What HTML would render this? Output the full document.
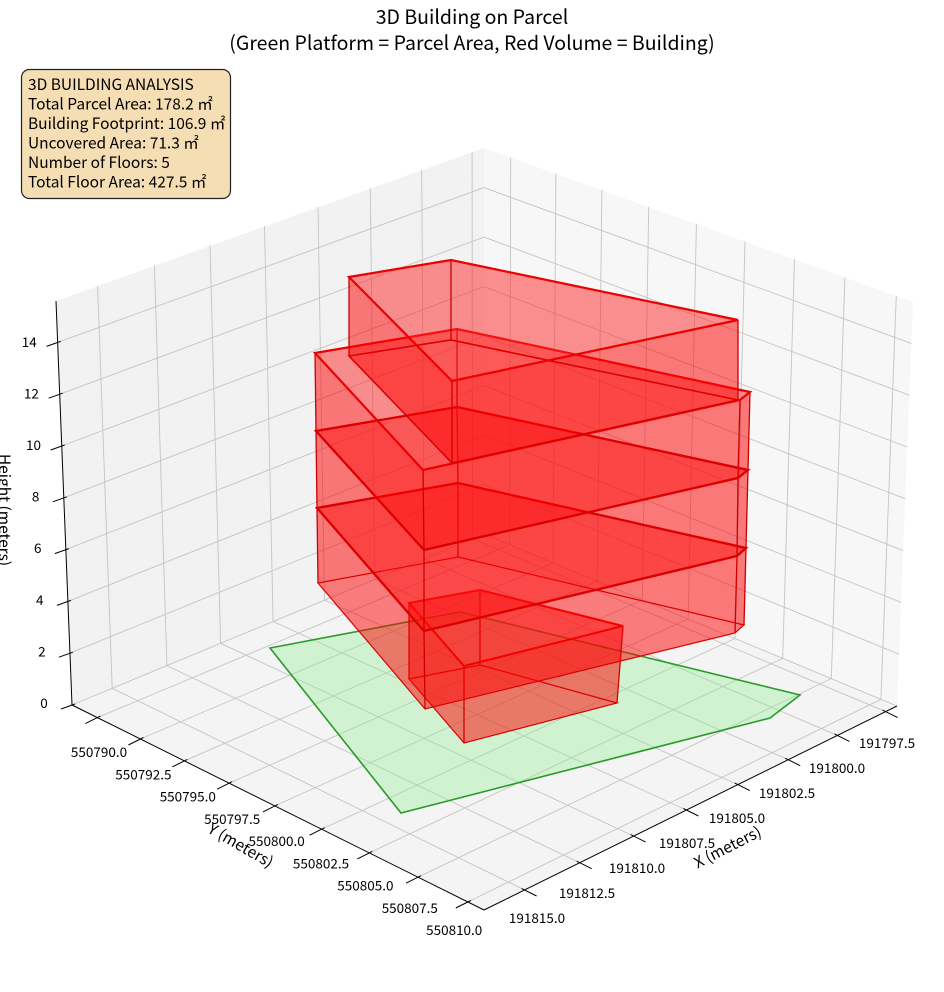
<!DOCTYPE html>
<html><head><meta charset="utf-8">
<style>
html,body{margin:0;padding:0;background:#fff;}
svg{display:block;}
text{font-family:"Noto Sans CJK JP","Liberation Sans",sans-serif;fill:#000;}
</style></head>
<body>
<svg id="s" width="944" height="992" viewBox="0 0 944 992" xmlns="http://www.w3.org/2000/svg">
<g id="panes"></g>
<g id="grid" stroke="#c4c4c4" stroke-width="0.9" fill="none"></g>
<g id="axes" stroke="#000" stroke-width="1" fill="none"></g>
<polygon points="270,648 460,612 800,695 770,718 401,813" fill="rgba(144,238,144,0.35)" stroke="#2a9a2a" stroke-width="1.6"/>
<g id="bld"></g>
<g id="labels" font-size="13.5"></g>
<text x="472" y="24" font-size="19.5" text-anchor="middle">3D Building on Parcel</text>
<text x="472" y="50" font-size="19.5" text-anchor="middle">(Green Platform = Parcel Area, Red Volume = Building)</text>
<rect x="21.5" y="69.5" width="209" height="129" rx="8" fill="#f5deb3" stroke="#222" stroke-width="1.2"/>
<g font-size="15.5">
<text x="28" y="90">3D BUILDING ANALYSIS</text>
<text x="28" y="109.5">Total Parcel Area: 178.2 ㎡</text>
<text x="28" y="129">Building Footprint: 106.9 ㎡</text>
<text x="28" y="148.5">Uncovered Area: 71.3 ㎡</text>
<text x="28" y="168">Number of Floors: 5</text>
<text x="28" y="187.5">Total Floor Area: 427.5 ㎡</text>
</g>
<text x="730" y="852" font-size="15.5" text-anchor="middle" transform="rotate(-27 730 852)">X (meters)</text>
<text x="238" y="850" font-size="15.5" text-anchor="middle" transform="rotate(30 238 850)">Y (meters)</text>
<text x="-1" y="510" font-size="15.5" text-anchor="middle" transform="rotate(90 -1 510)">Height (meters)</text>
</svg>
<script>
var NS="http://www.w3.org/2000/svg";
function el(p,tag,at){var e=document.createElementNS(NS,tag);for(var k in at)e.setAttribute(k,at[k]);p.appendChild(e);return e;}
var x0=484,y0=534,x1=72,y1=705,x2=484,y2=910,x3=897,y3=706;
var dx1=x1-x2,dx2=x3-x2,dx3=x0-x1+x2-x3,dy1=y1-y2,dy2=y3-y2,dy3=y0-y1+y2-y3;
var den=dx1*dy2-dx2*dy1;
var g=(dx3*dy2-dx2*dy3)/den,h=(dx1*dy3-dx3*dy1)/den;
var a=x1-x0+g*x1,b=x3-x0+h*x3,c=x0,d=y1-y0+g*y1,e=y3-y0+h*y3,f=y0;
function P(s,t,w){
 var q=g*s+h*t+1;var X=(a*s+b*t+c)/q,Y=(d*s+e*t+f)/q;
 var H=386*(1-s)*(1-t)+404*s*(1-t)+404*(1-s)*t+425*s*t;
 var D=-16*s*(1-t)+16*(1-s)*t;
 return [X+D*w,Y-H*w];
}
function pts(arr){return arr.map(function(p){return p[0].toFixed(1)+","+p[1].toFixed(1);}).join(" ");}
var xmin=796.9,xr=19.9,ymin=788.5,yr=22.3,zmax=15.6;
function U(x){return (x-xmin)/xr;} function V(y){return (y-ymin)/yr;} function W(z){return z/zmax;}
var panes=document.getElementById("panes");
el(panes,"polygon",{points:pts([P(0,0,0),P(1,0,0),P(1,0,1),P(0,0,1)]),fill:"#f2f2f2"});
el(panes,"polygon",{points:pts([P(0,0,0),P(0,1,0),P(0,1,1),P(0,0,1)]),fill:"#f7f7f7"});
el(panes,"polygon",{points:pts([P(0,0,0),P(1,0,0),P(1,1,0),P(0,1,0)]),fill:"#f4f4f4"});
var grid=document.getElementById("grid");
function line(p,A,B){el(p,"line",{x1:A[0].toFixed(1),y1:A[1].toFixed(1),x2:B[0].toFixed(1),y2:B[1].toFixed(1)});}
var xt=[797.5,800,802.5,805,807.5,810,812.5,815];
var yt=[790,792.5,795,797.5,800,802.5,805,807.5,810];
var zt=[0,2,4,6,8,10,12,14];
xt.forEach(function(x){var s=U(x);line(grid,P(s,0,0),P(s,1,0));line(grid,P(s,0,0),P(s,0,1));});
yt.forEach(function(y){var t=V(y);line(grid,P(0,t,0),P(1,t,0));line(grid,P(0,t,0),P(0,t,1));});
zt.forEach(function(z){var w=W(z);line(grid,P(0,0,w),P(1,0,w));line(grid,P(0,0,w),P(0,1,w));});
var ax=document.getElementById("axes");
line(ax,P(0,1,0),P(1,1,0));line(ax,P(1,0,0),P(1,1,0));line(ax,P(1,0,0),P(1,0,1));
xt.forEach(function(x){var p=P(U(x),1,0);line(ax,[p[0]-3,p[1]-1.5],[p[0]+12,p[1]+6]);});
yt.forEach(function(y){var p=P(1,V(y),0);line(ax,[p[0]+3,p[1]-1.5],[p[0]-12,p[1]+6]);});
zt.forEach(function(z){var p=P(1,0,W(z));line(ax,[p[0]+3,p[1]-1],[p[0]-11,p[1]+4]);});
var lab=document.getElementById("labels");
xt.forEach(function(x,i){var t=el(lab,"text",{x:887-50*i,y:748+25*i,"text-anchor":"middle"});t.textContent=(191797.5+2.5*i).toFixed(1);});
yt.forEach(function(y,i){var t=el(lab,"text",{x:99+44.4*i,y:757+22.25*i,"text-anchor":"middle"});t.textContent=(550790+2.5*i).toFixed(1);});
zt.forEach(function(z,i){var t=el(lab,"text",{x:44-2.1*i,y:708-51.6*i,"text-anchor":"middle"});t.textContent=String(z);});
var bld=document.getElementById("bld");
function line2(A,B,col,w){el(bld,"line",{x1:A[0],y1:A[1],x2:B[0],y2:B[1],stroke:col,"stroke-width":w});}
function prism(top,bot,thickTop,thickBot){
 var n=top.length,i;
 el(bld,"polygon",{points:pts(bot),fill:"rgba(255,0,0,0.28)",stroke:"none"});
 for(i=0;i<n;i++){var j=(i+1)%n;
  el(bld,"polygon",{points:pts([top[i],top[j],bot[j],bot[i]]),fill:"rgba(255,0,0,0.3)",stroke:"none"});}
 el(bld,"polygon",{points:pts(top),fill:"rgba(255,60,60,0.28)",stroke:"none"});
 for(i=0;i<n;i++){line2(top[i],bot[i],"#cc0000",1.3);}
 el(bld,"polygon",{points:pts(bot),fill:"none",stroke:"#dd0000","stroke-width":thickBot});
 el(bld,"polygon",{points:pts(top),fill:"none",stroke:"#ee0000","stroke-width":thickTop});
}
prism([[409,603],[480,590],[623,626],[464,666]],[[409,679],[480,665],[617,703],[464,743]],2,1.2);
var E=[[318,583],[317,508],[316,431],[315,353]],F=[[458,557],[458,483],[457,407],[457,329]],
G=[[744,625],[746,548],[748,470],[750,392]],G2=[[735,633],[737,556],[738,478],[740,400]],
Hh=[[425,709],[424,631],[424,550],[423,470]];
for(var k=0;k<3;k++){
 prism([E[k+1],F[k+1],G[k+1],G2[k+1],Hh[k+1]],[E[k],F[k],G[k],G2[k],Hh[k]],2.2,k==0?1.2:2.2);
}
prism([[349,277],[451,260],[738,320],[452,381]],[[349,356],[451,340],[738,400],[452,463]],2.2,1.6);
</script>
</body></html>
